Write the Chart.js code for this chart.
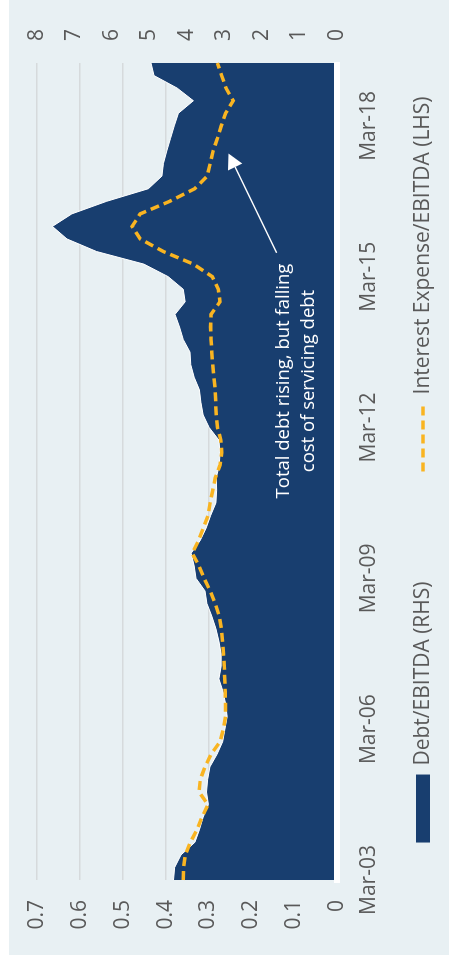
<!DOCTYPE html>
<html lang="en">

<head>
    <meta charset="UTF-8">
    <title>Debt/EBITDA</title>
    <style>
        html, body { margin: 0; padding: 0; background: #fff; overflow: hidden; }
        /* chart is laid out landscape, then turned to read bottom-up */
        #frame { position: absolute; left: 0; top: 0; width: 968px; height: 449px;
                 transform-origin: 0 0; transform: translate(0, 968px) rotate(-90deg); }
        #panel { position: absolute; left: 13px; top: 9px; right: 0; bottom: 0; background: #e8f0f3; }
        #myChart { position: absolute; left: 0; top: 0; }
    </style>
</head>

<body>
    <div id="frame">
        <div id="panel"></div>
        <canvas id="myChart" width="968" height="449"></canvas>
    </div>
    <script src="https://cdn.jsdelivr.net/npm/chart.js"></script>
    <script>
        // quarterly categories Mar-03 .. Jun-19
        const years = ['03', '04', '05', '06', '07', '08', '09', '10', '11', '12', '13', '14', '15', '16', '17', '18', '19'];
        const months = ['Mar', 'Jun', 'Sep', 'Dec'];
        const lastQuarter = 'Jun-19';
        const quarters = [];
        years.forEach(y => months.forEach(m => quarters.push(m + '-' + y)));
        quarters.splice(quarters.indexOf(lastQuarter) + 1);

        const shownTicks = ['Mar-03', 'Mar-06', 'Mar-09', 'Mar-12', 'Mar-15', 'Mar-18'];
        const lhsTicks = [0, 0.1, 0.2, 0.3, 0.4, 0.5, 0.6, 0.7];
        const rhsTicks = [0, 1, 2, 3, 4, 5, 6, 7, 8];

        // Debt/EBITDA (RHS)
        const debtEbitda = [
            4.36, 4.33, 4.16, 3.79, 3.67, 3.57, 3.43, 3.48, 3.45, 3.39,
            3.20, 3.05, 2.99, 2.93, 2.97, 3.04, 3.15, 3.09, 3.09, 3.15,
            3.23, 3.34, 3.47, 3.52, 3.76, 3.81, 3.89, 3.65, 3.49, 3.37,
            3.23, 3.21, 3.22, 3.14, 3.12, 3.15, 3.41, 3.57, 3.63, 3.67,
            3.81, 3.90, 3.92, 4.10, 4.20, 4.32, 4.05, 4.10, 4.50, 5.15,
            6.41, 7.20, 7.59, 7.07, 6.14, 5.03, 4.67, 4.63, 4.54, 4.44,
            4.34, 4.23, 3.83, 4.26, 4.88, 4.96
        ];

        // Interest Expense/EBITDA (LHS)
        const interestEbitda = [
            0.359, 0.358, 0.354, 0.342, 0.327, 0.315, 0.301, 0.322, 0.319, 0.308,
            0.294, 0.273, 0.265, 0.260, 0.260, 0.261, 0.262, 0.263, 0.265, 0.267,
            0.270, 0.275, 0.284, 0.296, 0.310, 0.322, 0.338, 0.323, 0.312, 0.301,
            0.296, 0.290, 0.284, 0.273, 0.269, 0.271, 0.279, 0.282, 0.283, 0.284,
            0.287, 0.290, 0.292, 0.294, 0.295, 0.294, 0.273, 0.277, 0.291, 0.335,
            0.405, 0.459, 0.478, 0.459, 0.390, 0.332, 0.303, 0.296, 0.289, 0.279,
            0.270, 0.260, 0.242, 0.259, 0.269, 0.279
        ];

        const noteText = ['Total debt rising, but falling', 'cost of servicing debt'];
        const notePos = { x: 39.7, y: 0.112 };   // category index, LHS value of first baseline
        const arrowFrom = { x: 49.9, y: 0.141 };
        const arrowTo = { x: 57.8, y: 0.253 };

        const navy = '#183e6f';
        const gold = '#f9b421';
        const grey = '#595959';

        Chart.defaults.font.family = "'Open Sans', sans-serif";
        Chart.defaults.color = grey;

        // white text + arrow over the area
        const notePlugin = {
            id: 'note',
            afterDatasetsDraw(chart) {
                const { ctx, scales: { x, y } } = chart;
                ctx.save();
                ctx.fillStyle = '#fff';
                ctx.strokeStyle = '#fff';
                ctx.font = "18.5px 'Open Sans'";
                ctx.textAlign = 'center';
                ctx.textBaseline = 'alphabetic';
                const cx = x.getPixelForValue(notePos.x);
                const cy = y.getPixelForValue(notePos.y);
                noteText.forEach((t, i) => ctx.fillText(t, cx, cy + i * 25));

                const x1 = x.getPixelForValue(arrowFrom.x), y1 = y.getPixelForValue(arrowFrom.y);
                const x2 = x.getPixelForValue(arrowTo.x), y2 = y.getPixelForValue(arrowTo.y);
                const a = Math.atan2(y2 - y1, x2 - x1);
                const head = 15, half = 8;
                const bx = x2 - head * Math.cos(a), by = y2 - head * Math.sin(a);
                ctx.lineWidth = 1.5;
                ctx.beginPath();
                ctx.moveTo(x1, y1);
                ctx.lineTo(bx, by);
                ctx.stroke();
                ctx.beginPath();
                ctx.moveTo(x2, y2);
                ctx.lineTo(bx + half * Math.sin(a), by - half * Math.cos(a));
                ctx.lineTo(bx - half * Math.sin(a), by + half * Math.cos(a));
                ctx.closePath();
                ctx.fill();
                ctx.restore();
            }
        };

        // legend row under the axis
        const keyPlugin = {
            id: 'keyRow',
            afterDraw(chart) {
                const { ctx, chartArea } = chart;
                const [area, line] = chart.data.datasets;
                ctx.save();
                ctx.font = "21px 'Open Sans'";
                ctx.textBaseline = 'middle';
                ctx.textAlign = 'left';
                const w1 = ctx.measureText(area.label).width;
                const w2 = ctx.measureText(line.label).width;
                const key = 68, gap = 9, between = 110;
                const total = key + gap + w1 + between + key + gap + w2;
                let px = (chartArea.left + chartArea.right) / 2 - total / 2 + 2;
                const py = chartArea.bottom + 86;

                ctx.fillStyle = area.backgroundColor;
                ctx.fillRect(px, py - 7, key, 14);
                px += key + gap;
                ctx.fillStyle = grey;
                ctx.fillText(area.label, px, py);
                px += w1 + between;

                ctx.strokeStyle = line.borderColor;
                ctx.lineWidth = line.borderWidth;
                ctx.setLineDash(line.borderDash);
                ctx.beginPath();
                ctx.moveTo(px, py);
                ctx.lineTo(px + key, py);
                ctx.stroke();
                ctx.setLineDash([]);
                px += key + gap;
                ctx.fillText(line.label, px, py);
                ctx.restore();
            }
        };

        const ctx = document.getElementById('myChart');
        const mychart = new Chart(ctx, {
            type: 'line',
            data: {
                labels: quarters,
                datasets: [{
                    label: 'Debt/EBITDA (RHS)',
                    data: debtEbitda,
                    yAxisID: 'y2',
                    order: 1,
                    fill: 'origin',
                    backgroundColor: navy,
                    borderColor: '#ffffff',
                    borderWidth: 1,
                    pointRadius: 0,
                    tension: 0
                }, {
                    label: 'Interest Expense/EBITDA (LHS)',
                    data: interestEbitda,
                    yAxisID: 'y',
                    order: 0,
                    fill: false,
                    borderColor: gold,
                    borderWidth: 3.5,
                    borderDash: [9, 5],
                    pointRadius: 0,
                    tension: 0
                }]
            },
            options: {
                responsive: false,
                animation: false,
                layout: { padding: { top: 37, bottom: 52, left: 0, right: 0 } },
                plugins: {
                    legend: { display: false },
                    tooltip: { enabled: false }
                },
                scales: {
                    x: {
                        type: 'category',
                        offset: false,
                        grid: { display: false, drawTicks: false },
                        border: { display: true, color: '#ffffff', width: 6, z: 1 },
                        ticks: {
                            autoSkip: false,
                            maxRotation: 0,
                            padding: 19,
                            font: { size: 21 },
                            callback: (v, i) => shownTicks.includes(quarters[i]) ? quarters[i] : ''
                        },
                        afterFit: s => { s.height = 60; }
                    },
                    y: {
                        position: 'left',
                        min: lhsTicks[0],
                        max: lhsTicks[lhsTicks.length - 1],
                        afterBuildTicks: s => { s.ticks = lhsTicks.map(v => ({ value: v })); },
                        grid: { color: '#d6dadc', lineWidth: 1.5, drawTicks: false },
                        border: { display: false },
                        ticks: { padding: 20, font: { size: 21 }, callback: v => String(v) },
                        afterFit: s => { s.width = 88; }
                    },
                    y2: {
                        position: 'right',
                        min: rhsTicks[0],
                        max: rhsTicks[rhsTicks.length - 1],
                        afterBuildTicks: s => { s.ticks = rhsTicks.map(v => ({ value: v })); },
                        grid: { display: false, drawTicks: false },
                        border: { display: false },
                        ticks: { padding: 22, font: { size: 21 }, callback: v => String(v) },
                        afterFit: s => { s.width = 63; }
                    }
                }
            },
            plugins: [notePlugin, keyPlugin]
        });
    </script>
</body>

</html>
